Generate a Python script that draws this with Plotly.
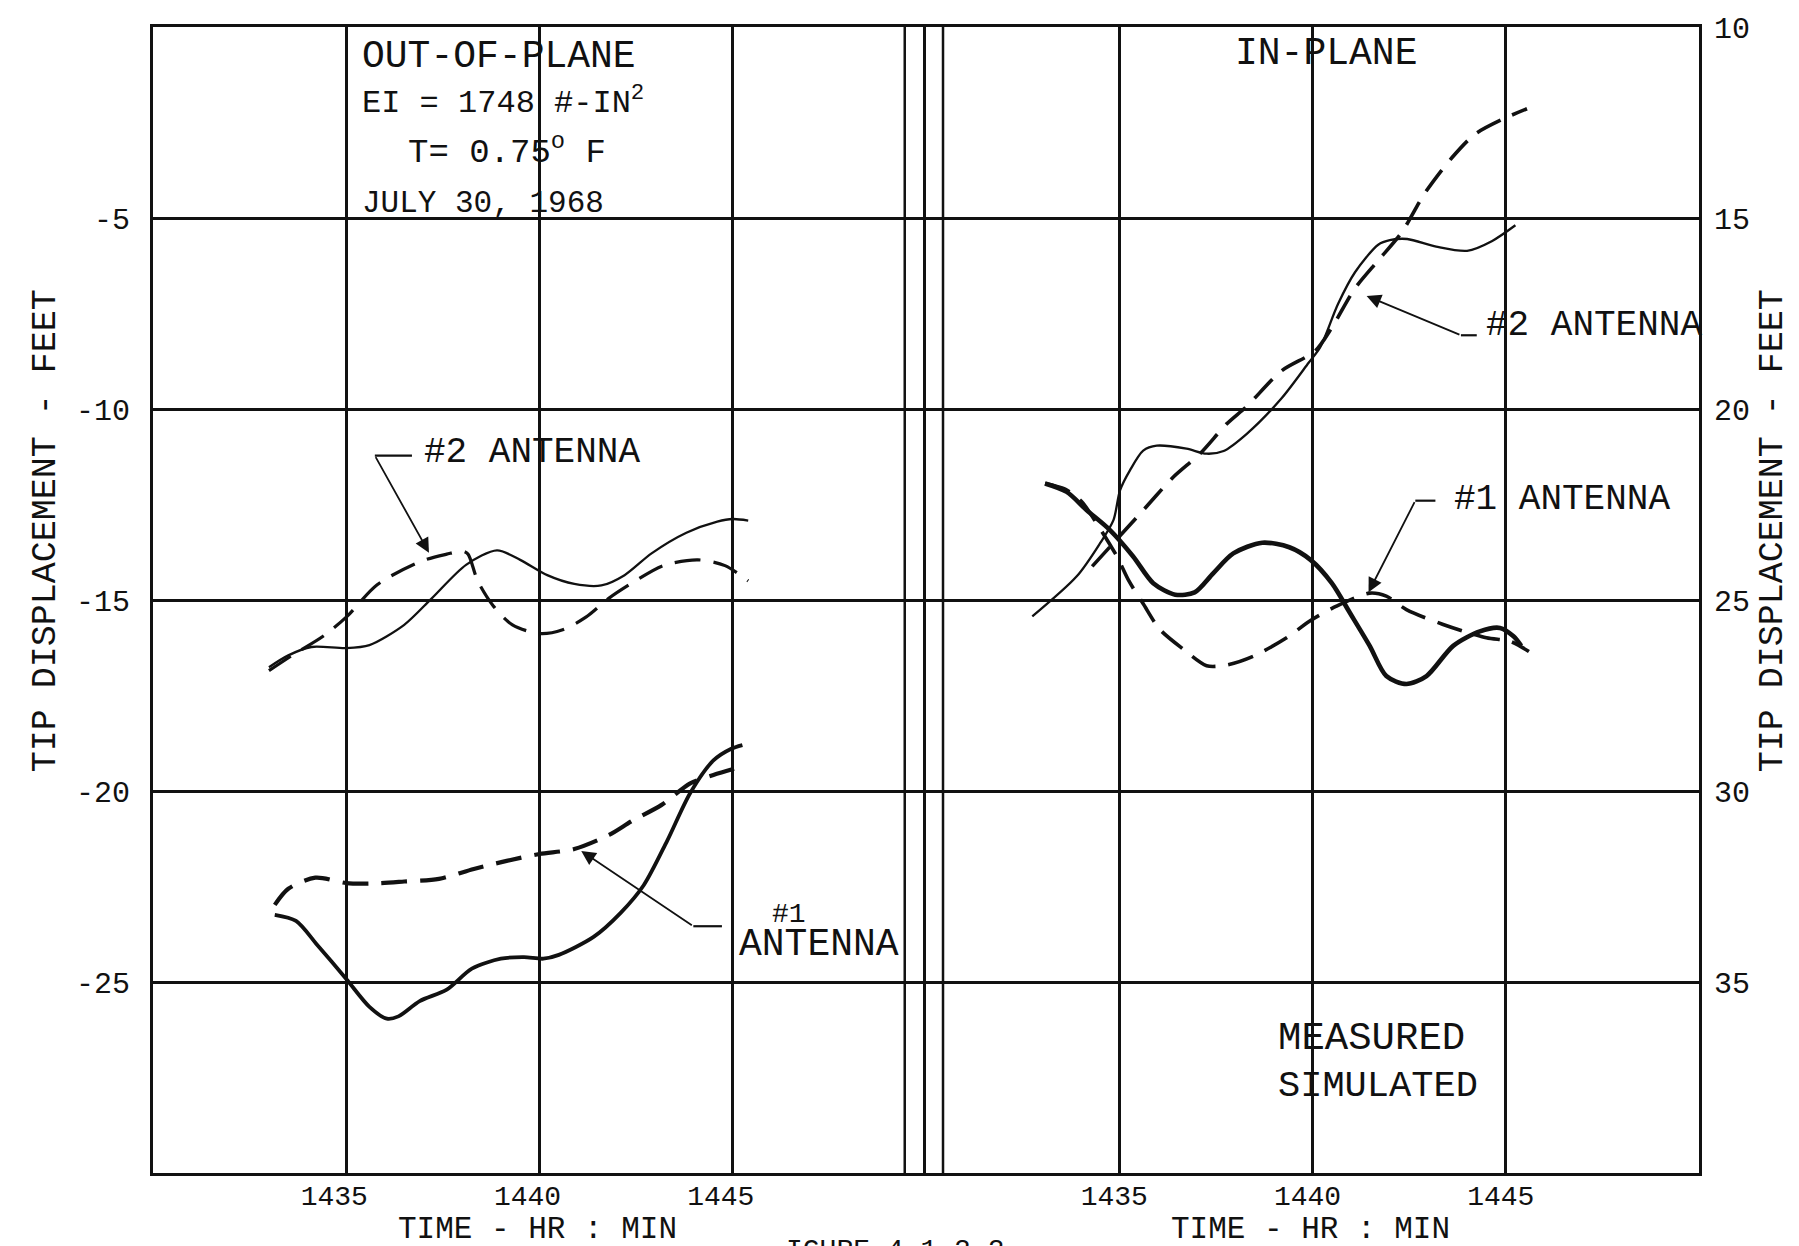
import plotly.graph_objects as go

# ---------------- data ----------------
tick_times = [1435, 1440, 1445]
left_tickvals = [-5, -10, -15, -20, -25]
left_ticktext = ["-5", "-10", "-15", "-20", "-25"]
right_tickvals = [10, 15, 20, 25, 30, 35]
right_ticktext = ["10", "15", "20", "25", "30", "35"]

# OUT-OF-PLANE panel (left axis, feet)
op2_meas_t = [1433.0, 1433.5, 1434.1, 1435.0, 1435.6, 1436.5, 1437.2, 1438.1, 1438.9, 1439.5,
              1440.2, 1440.9, 1441.6, 1442.2, 1442.9, 1443.8, 1444.6, 1445.0, 1445.4]
op2_meas_v = [-16.76, -16.45, -16.23, -16.26, -16.18, -15.65, -14.97, -14.08, -13.70, -13.95,
              -14.35, -14.58, -14.62, -14.35, -13.78, -13.24, -12.95, -12.88, -12.92]

op2_sim_t = [1433.0, 1433.6, 1434.4, 1435.0, 1435.8, 1436.9, 1437.6, 1438.0, 1438.15, 1438.4,
             1438.8, 1439.3, 1440.0, 1440.6, 1441.2, 1441.8, 1442.4, 1443.2, 1444.1, 1444.8, 1445.4]
op2_sim_v = [-16.85, -16.45, -15.95, -15.45, -14.6, -14.0, -13.8, -13.72, -13.8, -14.5,
             -15.15, -15.65, -15.88, -15.78, -15.45, -14.95, -14.55, -14.1, -13.95, -14.1, -14.5]

op1_meas_t = [1433.15, 1433.7, 1434.25, 1435.0, 1435.6, 1436.05, 1436.35, 1436.9, 1437.6, 1438.25,
              1439.0, 1439.6, 1440.1, 1440.5, 1441.4, 1442.1, 1442.7, 1443.3, 1443.9, 1444.5,
              1444.95, 1445.25]
op1_meas_v = [-23.24, -23.4, -24.03, -24.92, -25.65, -25.96, -25.9, -25.5, -25.2, -24.65,
              -24.39, -24.35, -24.39, -24.29, -23.82, -23.19, -22.46, -21.31, -20.05, -19.2,
              -18.9, -18.8]

op1_sim_t = [1433.15, 1433.5, 1434.2, 1435.0, 1435.7, 1436.5, 1437.4, 1438.3, 1439.15, 1440.0,
             1440.9, 1441.8, 1442.4, 1443.15, 1443.9, 1444.5, 1445.2]
op1_sim_v = [-22.98, -22.56, -22.27, -22.41, -22.42, -22.37, -22.3, -22.04, -21.83, -21.65,
             -21.52, -21.15, -20.78, -20.37, -19.8, -19.58, -19.37]

# IN-PLANE panel (right axis, feet)
ip2_meas_t = [1432.75, 1433.9, 1434.5, 1434.85, 1435.02, 1435.28, 1435.62, 1435.97, 1436.74, 1437.26,
              1437.7, 1438.3, 1439.2, 1439.9, 1440.2, 1440.66, 1441.1, 1441.7, 1442.0, 1442.45,
              1443.2, 1444.0, 1444.65, 1445.25]
ip2_meas_v = [25.43, 24.38, 23.52, 22.91, 22.13, 21.6, 21.09, 20.96, 21.04, 21.17,
              21.1, 20.65, 19.72, 18.79, 18.38, 17.25, 16.42, 15.7, 15.58, 15.55,
              15.75, 15.86, 15.6, 15.19]

ip2_sim_t = [1434.3, 1435.62, 1436.4, 1437.1, 1437.78, 1438.3, 1439.2, 1440.07, 1440.5, 1441.1,
             1441.7, 1442.3, 1442.9, 1443.6, 1444.2, 1444.95, 1445.55]
ip2_sim_v = [24.12, 22.65, 21.78, 21.16, 20.39, 19.93, 19.0, 18.48, 17.87, 16.84,
             16.11, 15.39, 14.36, 13.43, 12.81, 12.4, 12.14]

ip1_meas_t = [1433.08, 1433.64, 1434.16, 1434.76, 1435.36, 1435.88, 1436.45, 1436.95, 1437.43, 1437.95,
              1438.7, 1439.4, 1439.95, 1440.5, 1440.97, 1441.48, 1441.91, 1442.43, 1442.95, 1443.64,
              1444.33, 1444.85, 1445.2, 1445.4]
ip1_meas_v = [21.95, 22.17, 22.65, 23.17, 23.86, 24.56, 24.86, 24.8, 24.3, 23.78,
              23.5, 23.62, 23.95, 24.56, 25.34, 26.2, 26.99, 27.2, 26.99, 26.2,
              25.82, 25.73, 25.95, 26.2]

ip1_sim_t = [1433.08, 1433.6, 1434.03, 1434.42, 1434.94, 1435.25, 1435.62, 1436.05, 1436.66, 1437.26,
             1437.78, 1438.47, 1439.33, 1439.93, 1440.62, 1441.48, 1441.91, 1442.43, 1443.38, 1444.5,
             1445.11, 1445.6]
ip1_sim_v = [21.95, 22.1, 22.43, 23.0, 23.86, 24.5, 25.1, 25.77, 26.29, 26.72,
             26.7, 26.47, 25.99, 25.55, 25.16, 24.82, 24.9, 25.25, 25.64, 25.99,
             26.08, 26.35]

# ---------------- styling ----------------
FONT = "Liberation Mono, Courier New, monospace"
INK = "#111111"
DASH = "26px,13px"

fig = go.Figure()

def add_line(t, v, xa, ya, width, dash=None, name=""):
    fig.add_trace(go.Scatter(
        x=t, y=v, xaxis=xa, yaxis=ya, mode="lines", name=name,
        line=dict(color=INK, width=width, dash=dash if dash else "solid",
                  shape="spline", smoothing=0.8),
        hoverinfo="skip", showlegend=False))

add_line(op2_meas_t, op2_meas_v, "x", "y", 2.3, name="#2 measured")
add_line(op2_sim_t, op2_sim_v, "x", "y", 3.2, DASH, name="#2 simulated")
add_line(op1_meas_t, op1_meas_v, "x", "y", 3.8, name="#1 measured")
add_line(op1_sim_t, op1_sim_v, "x", "y", 4.2, DASH, name="#1 simulated")

add_line(ip2_meas_t, ip2_meas_v, "x2", "y2", 2.3, name="#2 measured")
add_line(ip2_sim_t, ip2_sim_v, "x2", "y2", 3.6, DASH, name="#2 simulated")
add_line(ip1_meas_t, ip1_meas_v, "x2", "y2", 4.6, name="#1 measured")
add_line(ip1_sim_t, ip1_sim_v, "x2", "y2", 3.6, DASH, name="#1 simulated")

axis_common = dict(showline=True, linecolor=INK, linewidth=3,
                   showgrid=True, gridcolor=INK, gridwidth=2.5, zeroline=False,
                   ticks="")
xfont = dict(family=FONT, size=28, color=INK)
yfont = dict(family=FONT, size=30, color=INK)

fig.update_layout(
    width=1799, height=1246,
    margin=dict(l=153, r=100, t=21, b=73),
    paper_bgcolor="white", plot_bgcolor="white",
    showlegend=False,
    xaxis=dict(domain=[0, 0.5], range=[1430, 1450], tickvals=tick_times, mirror=True,
               tickfont=xfont, ticklabelstandoff=-5, ticklabelshift=-12, **axis_common),
    xaxis2=dict(domain=[0.5, 1], range=[1430, 1450], tickvals=tick_times, anchor="y2",
                mirror=True, tickfont=xfont, ticklabelstandoff=-5, ticklabelshift=-5,
                **axis_common),
    yaxis=dict(range=[-30, 0], tickvals=left_tickvals, ticktext=left_ticktext, mirror=False,
               tickfont=yfont, ticklabelstandoff=14, **axis_common),
    yaxis2=dict(range=[40, 10], tickvals=right_tickvals, ticktext=right_ticktext,
                anchor="x2", side="right", mirror=True, tickfont=yfont,
                ticklabelstandoff=6, **axis_common),
)

# decorative extra vertical lines near the panel join
for xv, xr in [(1449.45, "x"), (1430.44, "x2")]:
    fig.add_shape(type="line", xref=xr, yref="paper", x0=xv, x1=xv, y0=0, y1=1,
                  line=dict(color=INK, width=2.5))

ann = []

def txt(x, y, s, xr="x", yr="y", size=34, xanchor="left", yanchor="middle", angle=0):
    ann.append(dict(x=x, y=y, xref=xr, yref=yr, text=s, showarrow=False,
                    xanchor=xanchor, yanchor=yanchor, textangle=angle,
                    font=dict(family=FONT, size=size, color=INK)))

def arrow(tip_x, tip_y, from_x, from_y, xr="x", yr="y"):
    ann.append(dict(x=tip_x, y=tip_y, xref=xr, yref=yr, ax=from_x, ay=from_y,
                    axref=xr, ayref=yr, text="", showarrow=True, arrowhead=2,
                    arrowsize=1.6, arrowwidth=1.8, arrowcolor=INK))

def hseg(x0, x1, y, xr="x", yr="y"):
    fig.add_shape(type="line", xref=xr, yref=yr, x0=x0, x1=x1, y0=y, y1=y,
                  line=dict(color=INK, width=2.2))

# left panel text
txt(1435.35, -0.77, "OUT-OF-PLANE", size=38)
txt(1435.35, -1.93, "EI = 1748 #-IN<sup>2</sup>", size=32)
txt(1436.55, -3.23, "T= 0.75<sup>o</sup> F", size=34)
txt(1435.35, -4.62, "JULY 30, 1968", size=31)

txt(1436.95, -11.15, "#2 ANTENNA", size=36)
hseg(1435.74, 1436.7, -11.22)
arrow(1437.14, -13.76, 1435.74, -11.22)

txt(1446.45, -23.22, "#1", size=28, xanchor="center")
txt(1445.1, -24.01, "ANTENNA", size=38)
hseg(1443.98, 1444.72, -23.54)
arrow(1441.08, -21.57, 1443.98, -23.54)

# right panel text
txt(1437.95, 10.69, "IN-PLANE", "x2", "y2", size=38)
txt(1444.45, 17.82, "#2 ANTENNA", "x2", "y2", size=36)
hseg(1443.84, 1444.25, 18.07, "x2", "y2")
arrow(1441.4, 17.04, 1443.84, 18.07, "x2", "y2")

txt(1443.6, 22.37, "#1 ANTENNA", "x2", "y2", size=36)
hseg(1442.66, 1443.18, 22.4, "x2", "y2")
arrow(1441.45, 24.8, 1442.66, 22.4, "x2", "y2")

txt(1439.05, 36.48, "MEASURED", "x2", "y2", size=39)
txt(1439.05, 37.71, "SIMULATED", "x2", "y2", size=37)

# axis titles
txt(0.249, -0.0495, "TIME - HR : MIN", "paper", "paper", size=31, xanchor="center")
txt(0.749, -0.0495, "TIME - HR : MIN", "paper", "paper", size=31, xanchor="center")
txt(-0.0692, 0.56, "TIP DISPLACEMENT - FEET", "paper", "paper", size=35,
    xanchor="center", angle=-90)
txt(1.0479, 0.56, "TIP DISPLACEMENT - FEET", "paper", "paper", size=35,
    xanchor="center", angle=-90)

# clipped caption at page bottom
txt(0.408, -0.052, "IGURE 4.1-2-2", "paper", "paper", size=28, yanchor="top")

fig.update_layout(annotations=ann)
fig.write_html("out.html")
